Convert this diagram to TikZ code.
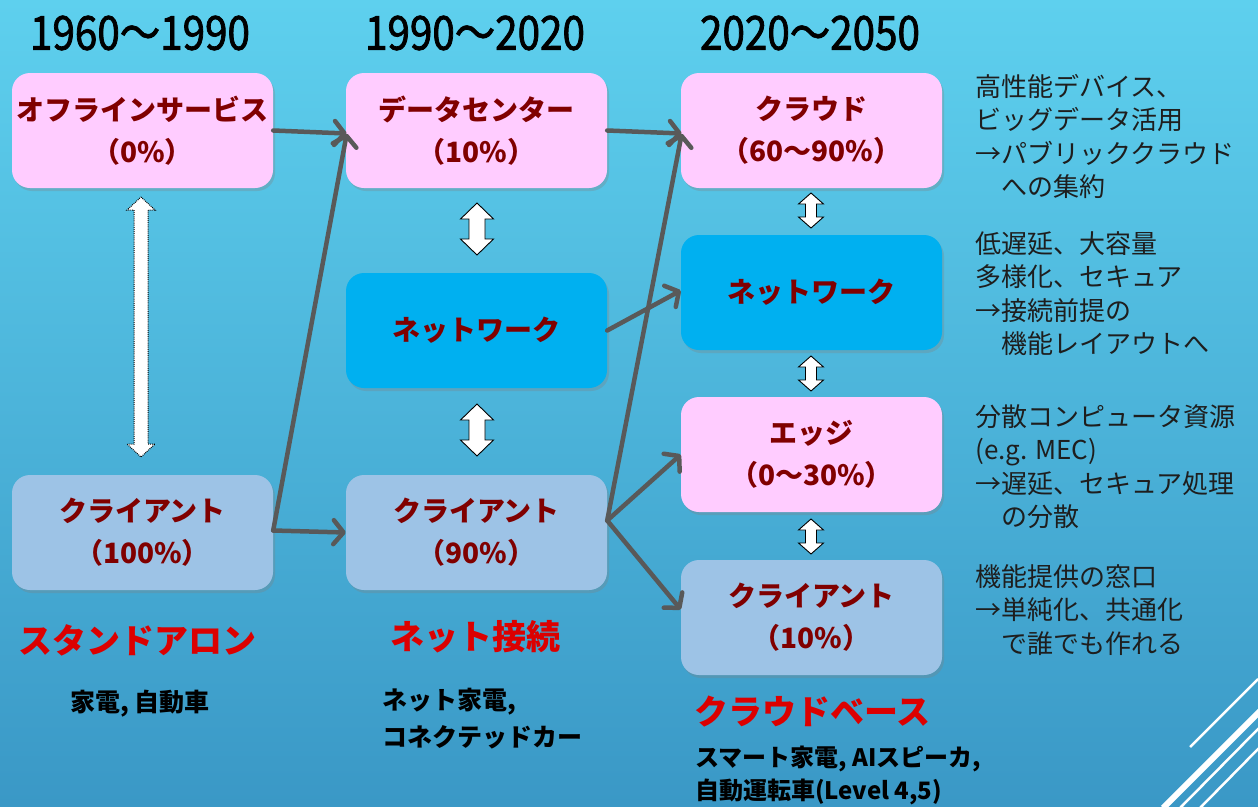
\documentclass[tikz,border=0pt]{standalone}
\usepackage{fontspec}
\setmainfont{Noto Sans CJK JP}
\newfontfamily\hdrfont{Noto Sans CJK JP}[FakeStretch=0.86, FakeBold=1.6]
\usetikzlibrary{shadows,arrows.meta,calc}
\definecolor{bgtop}{RGB}{94,208,238}
\definecolor{bgbot}{RGB}{58,152,198}
\definecolor{pinkbox}{RGB}{255,204,255}
\definecolor{bluebox}{RGB}{0,176,240}
\definecolor{lbluebox}{RGB}{157,195,230}
\definecolor{boxtext}{RGB}{128,0,0}
\definecolor{redlabel}{RGB}{220,0,0}
\definecolor{arrowgray}{RGB}{89,89,89}
\definecolor{desctext}{RGB}{30,30,30}
\tikzset{
  box/.style={rounded corners=18pt, minimum width=261pt, minimum height=115pt,
    inner sep=0pt, align=center, text=boxtext,
    font=\fontsize{28}{42}\selectfont\bfseries,
    drop shadow={opacity=0.3, shadow xshift=2pt, shadow yshift=-3pt}},
  pinkb/.style={box, fill=pinkbox},
  blueb/.style={box, fill=bluebox},
  lblueb/.style={box, fill=lbluebox},
  hdr/.style={font=\hdrfont\fontsize{47}{47}\selectfont, text=black, inner sep=0pt},
  redlab/.style={font=\fontsize{34}{34}\selectfont\bfseries, text=redlabel, inner sep=0pt},
  sublab/.style={font=\fontsize{25}{37}\selectfont\bfseries, text=black, inner sep=0pt, align=left},
  desc/.style={font=\fontsize{26}{33.5}\selectfont, text=desctext, inner sep=0pt, align=left, anchor=north west},
  conn/.style={draw=arrowgray, line width=4.5pt, line cap=round, line join=round,
    -{Straight Barb[length=10pt,width=24pt,line cap=round,line join=round]}},
  blockarrow/.style={draw=black, fill=white, line width=0.9pt, line join=miter},
  pics/dblarrow/.style n args={4}{code={
    \path[blockarrow] (0,{-#1/2}) -- ({#3/2},{-#1/2+#4}) -- ({#2/2},{-#1/2+#4})
      -- ({#2/2},{#1/2-#4}) -- ({#3/2},{#1/2-#4}) -- (0,{#1/2}) -- ({-#3/2},{#1/2-#4})
      -- ({-#2/2},{#1/2-#4}) -- ({-#2/2},{-#1/2+#4}) -- ({-#3/2},{-#1/2+#4}) -- cycle;
  }},
}
\newcommand{\ind}{\phantom{→}}
\begin{document}
\begin{tikzpicture}[x=1pt,y=-1pt]
\shade[top color=bgtop,bottom color=bgbot] (0,0) rectangle (1258,806);
\useasboundingbox (0,0) rectangle (1258,806);

% decorative lines
\draw[white, line width=2.5pt] (1190,747) -- (1258,679);
\draw[white, line width=6pt] (1163,808) -- (1260,711);
\draw[white, line width=2.5pt] (1180,808) -- (1260,727);
\draw[white, line width=2.5pt] (1200,808) -- (1260,747);

% headers
\node[hdr] (h1) at (140,33) {1960〜1990};
\node[hdr] (h2) at (475,33) {1990〜2020};
\node[hdr] (h3) at (810,33) {2020〜2050};

% boxes
\node[pinkb] (off) at (142.5,130.5) {オフラインサービス\\（0\%）};
\node[pinkb] (dc) at (476.5,130.5) {データセンター\\（10\%）};
\node[pinkb] (cloud) at (811.5,130.5) {クラウド\\（60〜90\%）};
\node[blueb] (net2) at (476.5,330.5) {ネットワーク};
\node[blueb] (net3) at (811.5,292.5) {ネットワーク};
\node[pinkb] (edge) at (811.5,454.5) {エッジ\\（0〜30\%）};
\node[lblueb] (cl1) at (142.5,532.5) {クライアント\\（100\%）};
\node[lblueb] (cl2) at (476.5,532.5) {クライアント\\（90\%）};
\node[lblueb] (cl3) at (811.5,617.5) {クライアント\\（10\%）};

% double block arrows
\begin{scope}[blockarrow/.append style={densely dotted, line width=1pt}]
\pic (da1) at (141,327) {dblarrow={260}{14}{28}{13}};
\end{scope}
\pic (da2) at (477,229) {dblarrow={52}{16}{33}{16}};
\pic (da3) at (477,430) {dblarrow={52}{16}{33}{16}};
\pic (da4) at (811,210.5) {dblarrow={35}{11}{25}{11}};
\pic (da5) at (811,373.5) {dblarrow={35}{11}{25}{11}};
\pic (da6) at (811,536.5) {dblarrow={35}{11}{25}{11}};

% connectors
\coordinate (dcin) at ($(dc.west)+(1,3)$);
\coordinate (cloudin) at ($(cloud.west)+(1,3)$);
\coordinate (cl1out) at ($(cl1.east)+(0,-2)$);
\coordinate (cl2out) at ($(cl2.east)+(0,-12)$);
\draw[conn] (off.east) -- (dcin);
\draw[conn] (cl1out) -- (dcin);
\draw[conn] (cl1out) -- (cl2.west);
\draw[conn] (dc.east) -- (cloudin);
\draw[conn] (net2.east) -- ($(net3.west)+(0,-2)$);
\draw[conn] (cl2out) -- (cloudin);
\draw[conn] (cl2out) -- (edge.west);
\draw[conn] (cl2out) -- ($(cl3.west)+(0,-8)$);

% labels
\node[redlab] (lab1) at (137,640) {スタンドアロン};
\node[redlab] (lab2) at (475,637) {ネット接続};
\node[redlab, anchor=west] (lab3) at (694,712) {クラウドベース};
\node[sublab] (sub1) at (140,704) {家電, 自動車};
\node[sublab, anchor=north west] (sub2) at (382,688) {ネット家電,\\コネクテッドカー};
\node[sublab, anchor=north west, font=\fontsize{24}{33}\selectfont\bfseries] (sub3) at (695,746) {スマート家電, AIスピーカ,\\自動運転車(Level 4,5)};

% descriptions
\node[desc] (d1) at (975,74) {高性能デバイス、\\ビッグデータ活用\\→パブリッククラウド\\\ind への集約};
\node[desc] (d2) at (975,231) {低遅延、大容量\\多様化、セキュア\\→接続前提の\\\ind 機能レイアウトへ};
\node[desc] (d3) at (975,404) {分散コンピュータ資源\\(e.g. MEC)\\→遅延、セキュア処理\\\ind の分散};
\node[desc] (d4) at (975,564) {機能提供の窓口\\→単純化、共通化\\\ind で誰でも作れる};
\end{tikzpicture}
\end{document}
